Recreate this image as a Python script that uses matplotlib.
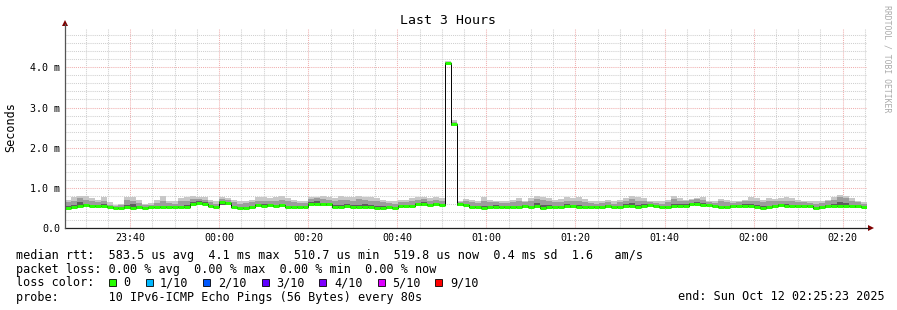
import numpy as np
import pandas as pd
import matplotlib
matplotlib.use("Agg")
import matplotlib.pyplot as plt
import matplotlib.dates as mdates
from matplotlib.ticker import MultipleLocator, FuncFormatter
from matplotlib.patches import Polygon, Rectangle
from matplotlib.lines import Line2D

plt.rcParams['font.family'] = 'DejaVu Sans Mono'

# --- data: one value per 80 s step, milliseconds ---
median = [
    0.51, 0.53, 0.56, 0.57, 0.55, 0.55, 0.56, 0.53, 0.51, 0.51, 0.52, 0.51, 0.52, 0.51, 0.52,
    0.52, 0.53, 0.52, 0.52, 0.52, 0.53, 0.60, 0.62, 0.61, 0.56, 0.52, 0.64, 0.62, 0.53, 0.51,
    0.51, 0.52, 0.57, 0.56, 0.58, 0.55, 0.57, 0.53, 0.52, 0.53, 0.52, 0.60, 0.61, 0.59, 0.60,
    0.53, 0.52, 0.54, 0.52, 0.52, 0.53, 0.52, 0.51, 0.51, 0.52, 0.51, 0.55, 0.54, 0.55, 0.59,
    0.60, 0.58, 0.60, 0.57, 4.10, 2.58, 0.60, 0.57, 0.53, 0.52, 0.51, 0.52, 0.53, 0.52, 0.52,
    0.53, 0.52, 0.54, 0.52, 0.55, 0.51, 0.53, 0.53, 0.52, 0.55, 0.54, 0.52, 0.53, 0.53, 0.52,
    0.53, 0.54, 0.52, 0.53, 0.56, 0.55, 0.53, 0.56, 0.57, 0.55, 0.53, 0.52, 0.54, 0.55, 0.56,
    0.60, 0.61, 0.58, 0.57, 0.55, 0.53, 0.52, 0.55, 0.55, 0.56, 0.55, 0.53, 0.51, 0.52, 0.55,
    0.57, 0.56, 0.55, 0.54, 0.55, 0.55, 0.51, 0.53, 0.55, 0.55, 0.56, 0.55, 0.55, 0.54, 0.52,
]
ping_min = [
    0.48, 0.50, 0.52, 0.53, 0.52, 0.52, 0.52, 0.50, 0.49, 0.49, 0.50, 0.49, 0.50, 0.49, 0.50,
    0.50, 0.50, 0.50, 0.50, 0.50, 0.51, 0.55, 0.58, 0.57, 0.53, 0.50, 0.58, 0.58, 0.50, 0.49,
    0.49, 0.50, 0.53, 0.53, 0.54, 0.52, 0.53, 0.50, 0.50, 0.51, 0.50, 0.56, 0.57, 0.55, 0.56,
    0.50, 0.50, 0.51, 0.50, 0.50, 0.50, 0.50, 0.49, 0.49, 0.50, 0.49, 0.52, 0.52, 0.52, 0.55,
    0.56, 0.55, 0.56, 0.54, 4.08, 2.55, 0.56, 0.54, 0.50, 0.50, 0.49, 0.50, 0.50, 0.50, 0.50,
    0.50, 0.50, 0.51, 0.50, 0.52, 0.49, 0.50, 0.51, 0.50, 0.52, 0.51, 0.50, 0.51, 0.50, 0.50,
    0.51, 0.51, 0.50, 0.51, 0.53, 0.52, 0.51, 0.53, 0.54, 0.52, 0.51, 0.50, 0.51, 0.52, 0.53,
    0.56, 0.57, 0.55, 0.54, 0.52, 0.51, 0.50, 0.52, 0.52, 0.53, 0.52, 0.51, 0.49, 0.50, 0.52,
    0.54, 0.53, 0.52, 0.52, 0.52, 0.52, 0.49, 0.51, 0.52, 0.52, 0.53, 0.52, 0.52, 0.51, 0.50,
]
smoke_dark = [
    0.55, 0.57, 0.64, 0.60, 0.58, 0.57, 0.61, 0.54, 0.52, 0.53, 0.57, 0.60, 0.54, 0.52, 0.53,
    0.53, 0.56, 0.54, 0.53, 0.56, 0.58, 0.65, 0.66, 0.64, 0.58, 0.54, 0.67, 0.65, 0.56, 0.53,
    0.53, 0.54, 0.61, 0.60, 0.61, 0.58, 0.61, 0.56, 0.55, 0.56, 0.54, 0.65, 0.66, 0.63, 0.63,
    0.57, 0.58, 0.60, 0.58, 0.58, 0.59, 0.58, 0.55, 0.54, 0.53, 0.53, 0.57, 0.57, 0.58, 0.62,
    0.64, 0.61, 0.63, 0.61, 4.12, 2.61, 0.61, 0.60, 0.56, 0.54, 0.56, 0.56, 0.57, 0.54, 0.55,
    0.56, 0.56, 0.57, 0.56, 0.62, 0.57, 0.57, 0.56, 0.55, 0.60, 0.57, 0.58, 0.56, 0.56, 0.55,
    0.56, 0.57, 0.55, 0.56, 0.60, 0.62, 0.58, 0.60, 0.59, 0.57, 0.55, 0.56, 0.60, 0.59, 0.59,
    0.63, 0.64, 0.62, 0.59, 0.57, 0.56, 0.55, 0.57, 0.58, 0.59, 0.59, 0.58, 0.55, 0.56, 0.58,
    0.60, 0.59, 0.58, 0.57, 0.57, 0.57, 0.53, 0.56, 0.58, 0.60, 0.64, 0.62, 0.58, 0.57, 0.55,
]
smoke_mid = [
    0.64, 0.68, 0.74, 0.70, 0.66, 0.64, 0.68, 0.58, 0.55, 0.57, 0.70, 0.68, 0.62, 0.57, 0.57,
    0.62, 0.66, 0.62, 0.60, 0.66, 0.68, 0.72, 0.72, 0.70, 0.64, 0.60, 0.72, 0.70, 0.64, 0.60,
    0.62, 0.64, 0.68, 0.68, 0.68, 0.67, 0.70, 0.66, 0.64, 0.62, 0.62, 0.72, 0.74, 0.72, 0.70,
    0.66, 0.70, 0.70, 0.68, 0.72, 0.70, 0.68, 0.66, 0.64, 0.62, 0.60, 0.64, 0.64, 0.66, 0.70,
    0.72, 0.68, 0.70, 0.68, 4.14, 2.64, 0.64, 0.68, 0.64, 0.62, 0.68, 0.64, 0.64, 0.62, 0.62,
    0.64, 0.66, 0.64, 0.66, 0.72, 0.70, 0.66, 0.64, 0.64, 0.68, 0.66, 0.68, 0.64, 0.62, 0.61,
    0.62, 0.64, 0.61, 0.64, 0.68, 0.72, 0.68, 0.68, 0.64, 0.63, 0.61, 0.64, 0.72, 0.68, 0.66,
    0.70, 0.71, 0.70, 0.64, 0.62, 0.66, 0.64, 0.62, 0.64, 0.66, 0.68, 0.67, 0.64, 0.66, 0.66,
    0.68, 0.68, 0.67, 0.65, 0.64, 0.62, 0.60, 0.63, 0.66, 0.70, 0.76, 0.74, 0.68, 0.64, 0.61,
]
ping_max = [
    0.70, 0.76, 0.80, 0.80, 0.74, 0.70, 0.76, 0.64, 0.58, 0.60, 0.78, 0.76, 0.70, 0.60, 0.62,
    0.70, 0.80, 0.68, 0.66, 0.74, 0.78, 0.80, 0.78, 0.76, 0.70, 0.66, 0.76, 0.74, 0.70, 0.66,
    0.68, 0.70, 0.76, 0.78, 0.74, 0.76, 0.80, 0.74, 0.70, 0.68, 0.66, 0.76, 0.78, 0.80, 0.76,
    0.74, 0.80, 0.78, 0.76, 0.80, 0.78, 0.76, 0.74, 0.70, 0.68, 0.66, 0.70, 0.70, 0.74, 0.76,
    0.76, 0.74, 0.76, 0.74, 4.16, 2.68, 0.66, 0.72, 0.70, 0.68, 0.78, 0.70, 0.68, 0.66, 0.66,
    0.70, 0.74, 0.68, 0.74, 0.80, 0.78, 0.74, 0.70, 0.72, 0.78, 0.74, 0.76, 0.72, 0.68, 0.66,
    0.68, 0.70, 0.66, 0.70, 0.74, 0.80, 0.76, 0.74, 0.68, 0.68, 0.66, 0.70, 0.80, 0.74, 0.70,
    0.72, 0.74, 0.76, 0.68, 0.66, 0.72, 0.70, 0.66, 0.68, 0.70, 0.76, 0.74, 0.70, 0.74, 0.72,
    0.74, 0.76, 0.74, 0.70, 0.68, 0.66, 0.66, 0.68, 0.70, 0.76, 0.82, 0.80, 0.74, 0.68, 0.64,
]

loss_labels = ["0", "1/10", "2/10", "3/10", "4/10", "5/10", "9/10"]
loss_colors = ["#26ff00", "#00b8ff", "#0059ff", "#5e00ff", "#7e00ff", "#dd00ff", "#ff0000"]

start = pd.Timestamp("2025-10-11 23:25:23")
end = pd.Timestamp("2025-10-12 02:25:23")
times = pd.date_range(start, periods=len(median) + 1, freq="80s")
x = mdates.date2num(times.to_pydatetime())

W, H = 897, 310
def fx(px):
    return px / W
def fy(py):
    return 1 - py / H

fig = plt.figure(figsize=(W / 100, H / 100), dpi=100)
fig.patch.set_facecolor("white")
ax = fig.add_axes([fx(65), fy(228), (866.7 - 65) / W, (228 - 28) / H])

def ext(a):
    return np.append(a, a[-1])

# smoke bands
ax.fill_between(x, ext(ping_min), ext(ping_max), step="post", color="#c8c8c8", lw=0, zorder=2)
ax.fill_between(x, ext(ping_min), ext(smoke_mid), step="post", color="#9c9c9c", lw=0, zorder=2)
ax.fill_between(x, ext(ping_min), ext(smoke_dark), step="post", color="#5e5e5e", lw=0, zorder=2)

# median: thin black step line + green (0 loss) segments
ax.step(x, ext(median), where="post", color="black", lw=0.7, zorder=3)
ax.hlines(median, x[:-1], x[1:], colors=loss_colors[0], lw=2.16, zorder=4)

ax.set_xlim(mdates.date2num(start.to_pydatetime()), mdates.date2num(end.to_pydatetime()))
ax.set_ylim(0, 4.98)

ax.xaxis.set_major_locator(mdates.MinuteLocator(byminute=[0, 20, 40]))
ax.xaxis.set_minor_locator(mdates.MinuteLocator(byminute=range(0, 60, 5)))
ax.xaxis.set_major_formatter(mdates.DateFormatter("%H:%M"))
ax.yaxis.set_major_locator(MultipleLocator(1))
ax.yaxis.set_minor_locator(MultipleLocator(0.2))
ax.yaxis.set_major_formatter(FuncFormatter(lambda v, p: "0.0" if v == 0 else "%.1f m" % v))

ax.grid(which="minor", color="#d0d0d0", linestyle=(0, (1, 1)), lw=0.75)
ax.grid(which="major", color="#f0b0b0", linestyle=(0, (1, 1)), lw=0.75)
ax.set_axisbelow(True)
ax.tick_params(which="both", length=0, labelsize=7.2)
ax.tick_params(axis="y", pad=3.6)
ax.tick_params(axis="x", pad=3.6)
for s in ax.spines.values():
    s.set_visible(False)

# axis lines and arrows
fig.add_artist(Line2D([fx(65), fx(868)], [fy(228), fy(228)], color="#222222", lw=0.9))
fig.add_artist(Line2D([fx(65), fx(65)], [fy(228), fy(24)], color="#555555", lw=0.9))
fig.add_artist(Polygon([(fx(874), fy(228)), (fx(868), fy(225)), (fx(868), fy(231))],
                       closed=True, color="#7f0000", lw=0))
fig.add_artist(Polygon([(fx(65), fy(20)), (fx(62), fy(26)), (fx(68), fy(26))],
                       closed=True, color="#7f0000", lw=0))

# titles
fig.text(fx(448), fy(24), "Last 3 Hours", ha="center", va="baseline", size=9.5)
fig.text(fx(11), fy(127), "Seconds", rotation=90, ha="center", va="center", size=8.5)
fig.text(fx(887), fy(5), "RRDTOOL / TOBI OETIKER", rotation=270, ha="center", va="top",
         size=5.9, color="#aaaaaa")

# legend
fs = 8.5
fig.text(fx(16), fy(259),
         "median rtt:  583.5 us avg  4.1 ms max  510.7 us min  519.8 us now  0.4 ms sd  1.6   am/s",
         size=fs, va="baseline")
fig.text(fx(16), fy(272.5),
         "packet loss: 0.00 % avg  0.00 % max  0.00 % min  0.00 % now",
         size=fs, va="baseline")
fig.text(fx(16), fy(286.5), "loss color:", size=fs, va="baseline")
sq_x = [109, 146, 203, 262, 319, 378, 435]
lab_x = [123, 160, 218, 276, 334, 392, 450]
for sx, lx, lab, col in zip(sq_x, lab_x, loss_labels, loss_colors):
    fig.add_artist(Rectangle((fx(sx), fy(286)), 7 / W, 7 / H, facecolor=col,
                             edgecolor="black", lw=0.6))
    fig.text(fx(lx), fy(286.5), lab, size=fs, va="baseline")
fig.text(fx(16), fy(300.5),
         "probe:       10 IPv6-ICMP Echo Pings (56 Bytes) every 80s",
         size=fs, va="baseline")
fig.text(fx(678), fy(300.5), "end: Sun Oct 12 02:25:23 2025", size=fs, va="baseline")

fig.savefig("out.png", dpi=100)
